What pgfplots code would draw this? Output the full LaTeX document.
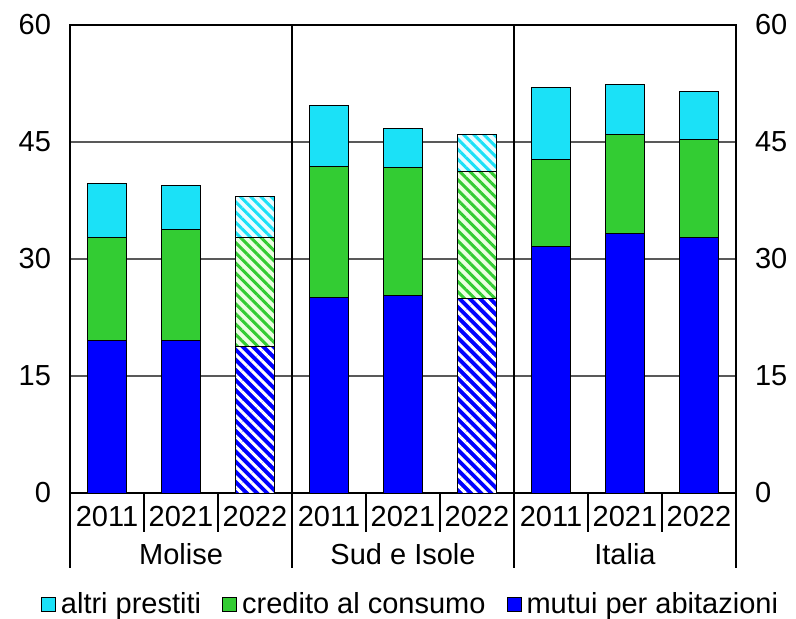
\documentclass[border=0pt]{standalone}
\usepackage{pgfplots}
\pgfplotsset{compat=1.18}
\usepackage{fontspec}
\setmainfont{Liberation Sans}
\usetikzlibrary{patterns.meta}
\definecolor{cCyan}{RGB}{27,225,247}
\definecolor{cGreen}{RGB}{51,204,51}
\definecolor{cBlue}{RGB}{0,0,255}
\definecolor{cPaleGreen}{RGB}{236,255,226}
\definecolor{cPaleCyan}{RGB}{236,252,255}
\newcommand{\fnt}{\fontsize{14.5}{17.4}\selectfont}

\begin{document}
\begin{tikzpicture}[font=\fnt]
\useasboundingbox (-35pt,-62.5pt) rectangle (363pt,246.5pt);
\begin{axis}[
  at={(0,0)}, anchor=south west,
  scale only axis, width=333pt, height=234pt,
  xmin=-0.5, xmax=8.5, ymin=0, ymax=60,
  ybar stacked, bar width=0.52,
  ytick={0,15,30,45,60},
  xtick={0,...,8},
  xticklabels={2011,2021,2022,2011,2021,2022,2011,2021,2022},
  major tick length=0pt,
  ymajorgrids,
  grid style={gray!70!black, line width=0.7pt},
  axis line style={black, line width=0.6pt},
  /pgf/number format/assume math mode=true,
  tick label style={font=\fnt},
  yticklabel style={xshift=-6pt},
  xticklabel style={yshift=-3pt},
  clip=false,
  legend columns=3,
  legend image code/.code={\draw[#1,draw=black,line width=0.5pt] (0pt,-3.5pt) rectangle (7pt,3.5pt);},
  legend style={draw=none, fill=none, font=\fnt, at={(0.5,0)}, anchor=center, yshift=-55.5pt, xshift=4pt,
    /tikz/every odd column/.append style={column sep=1pt},
    /tikz/every even column/.append style={column sep=9pt},
    nodes={inner sep=1.5pt}},
]
\addlegendimage{fill=cCyan}\addlegendentry{altri prestiti}
\addlegendimage{fill=cGreen}\addlegendentry{credito al consumo}
\addlegendimage{fill=cBlue}\addlegendentry{mutui per abitazioni}

% mutui per abitazioni (solid)
\addplot[forget plot, draw=black, line width=0.5pt, fill=cBlue] coordinates {(0,19.5) (1,19.6) (2,0) (3,25.1) (4,25.3) (5,0) (6,31.6) (7,33.3) (8,32.8)};
% mutui per abitazioni (hatched, 2022)
\addplot[forget plot, draw=black, line width=0.5pt, fill=cBlue, postaction={draw=black, pattern={Lines[angle=-45,distance=3.6pt,line width=1.5pt]}, pattern color=white}]
  coordinates {(0,0) (1,0) (2,18.8) (3,0) (4,0) (5,25.0) (6,0) (7,0) (8,0)};
% credito al consumo (solid)
\addplot[forget plot, draw=black, line width=0.5pt, fill=cGreen] coordinates {(0,13.3) (1,14.2) (2,0) (3,16.7) (4,16.4) (5,0) (6,11.1) (7,12.6) (8,12.5)};
% credito al consumo (hatched)
\addplot[forget plot, draw=black, line width=0.5pt, fill=cPaleGreen, postaction={draw=black, pattern={Lines[angle=-45,distance=3.6pt,line width=1.5pt]}, pattern color=cGreen}]
  coordinates {(0,0) (1,0) (2,14.0) (3,0) (4,0) (5,16.2) (6,0) (7,0) (8,0)};
% altri prestiti (solid)
\addplot[forget plot, draw=black, line width=0.5pt, fill=cCyan] coordinates {(0,6.9) (1,5.6) (2,0) (3,7.9) (4,5.0) (5,0) (6,9.3) (7,6.5) (8,6.2)};
% altri prestiti (hatched)
\addplot[forget plot, draw=black, line width=0.5pt, fill=cPaleCyan, postaction={draw=black, pattern={Lines[angle=-45,distance=3.6pt,line width=1.5pt]}, pattern color=cCyan}]
  coordinates {(0,0) (1,0) (2,5.2) (3,0) (4,0) (5,4.8) (6,0) (7,0) (8,0)};

% group separators
\draw[black, line width=0.6pt] (axis cs:2.5,60) -- (axis cs:2.5,-9.6);
\draw[black, line width=0.6pt] (axis cs:5.5,60) -- (axis cs:5.5,-9.6);
\draw[black, line width=0.6pt] (axis cs:-0.5,0) -- (axis cs:-0.5,-9.6);
\draw[black, line width=0.6pt] (axis cs:8.5,0) -- (axis cs:8.5,-9.6);
% year separators
\draw[black, line width=0.6pt] (axis cs:0.5,0) -- (axis cs:0.5,-5);
\draw[black, line width=0.6pt] (axis cs:1.5,0) -- (axis cs:1.5,-5);
\draw[black, line width=0.6pt] (axis cs:3.5,0) -- (axis cs:3.5,-5);
\draw[black, line width=0.6pt] (axis cs:4.5,0) -- (axis cs:4.5,-5);
\draw[black, line width=0.6pt] (axis cs:6.5,0) -- (axis cs:6.5,-5);
\draw[black, line width=0.6pt] (axis cs:7.5,0) -- (axis cs:7.5,-5);
% group names
\node[font=\fnt] at (axis cs:1,-7.8) {Molise};
\node[font=\fnt] at (axis cs:4,-7.8) {Sud e Isole};
\node[font=\fnt] at (axis cs:7,-7.8) {Italia};
\end{axis}
\begin{axis}[
  at={(0,0)}, anchor=south west,
  scale only axis, width=333pt, height=234pt,
  xmin=-0.5, xmax=8.5, ymin=0, ymax=60,
  axis x line=none, axis y line*=right,
  ytick={0,15,30,45,60},
  major tick length=0pt,
  axis line style={black, line width=0.6pt},
  /pgf/number format/assume math mode=true,
  tick label style={font=\fnt},
  yticklabel style={xshift=6pt},
]
\end{axis}
\end{tikzpicture}
\end{document}
